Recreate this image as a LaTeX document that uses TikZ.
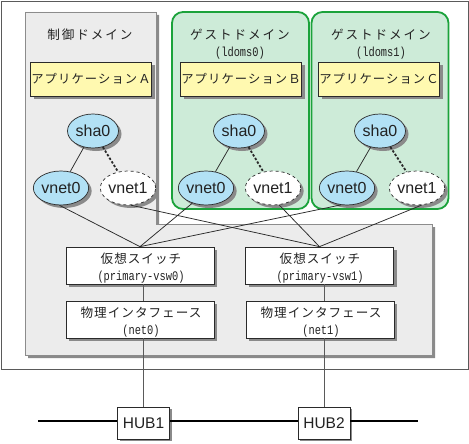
\documentclass[tikz,border=0pt]{standalone}
\usepackage{fontspec}
\setmainfont{Liberation Sans}
\newfontfamily\jpf[LetterSpace=9]{Noto Sans CJK JP}
\newfontfamily\jph[LetterSpace=15]{Noto Sans CJK JP}
\newfontfamily\jpg[LetterSpace=8]{Noto Sans CJK JP}
\newfontfamily\monof{Liberation Mono}
\newcommand\mtxt[1]{\scalebox{0.95}[1.2]{#1}}
\usetikzlibrary{shapes.geometric,shadows}
\definecolor{framec}{HTML}{5A5A5A}
\definecolor{panelc}{HTML}{ECECEC}
\definecolor{panelb}{HTML}{8C8C8C}
\definecolor{shadc}{HTML}{8A8A8A}
\definecolor{greenf}{HTML}{CDEBD8}
\definecolor{greenb}{HTML}{1BA23B}
\definecolor{appc}{HTML}{FFF9B0}
\definecolor{ellc}{HTML}{B2E1F5}
\definecolor{linec}{HTML}{2A2A2A}
\definecolor{textc}{HTML}{222222}
\pgfdeclarelayer{bg}
\pgfsetlayers{bg,main}
\tikzset{
  shad/.style={drop shadow={shadow xshift=3pt,shadow yshift=-3pt,fill=shadc,opacity=1}},
  shadsmall/.style={drop shadow={shadow xshift=2pt,shadow yshift=-2pt,fill=shadc,opacity=1}},
  guestbox/.style={draw=greenb,line width=1.8pt,fill=greenf,rounded corners=11pt,minimum width=137pt,minimum height=197pt,inner sep=0pt},
  appbox/.style={draw=linec,line width=0.7pt,fill=appc,minimum width=121pt,minimum height=34pt,inner sep=0pt,shad,text=textc,font=\jpf\fontsize{12.3}{14}\selectfont},
  ell/.style={ellipse,draw=linec,line width=0.7pt,fill=ellc,minimum width=51pt,minimum height=34pt,inner sep=0pt,shad,text=textc,font=\fontsize{16}{18}\selectfont},
  ellv/.style={ell,fill=white,dashed},
  swbox/.style={draw=linec,line width=0.7pt,fill=white,minimum width=148pt,minimum height=37pt,inner sep=0pt,shad},
  hubbox/.style={draw=linec,line width=0.7pt,fill=white,minimum width=52pt,minimum height=32pt,inner sep=0pt,shadsmall,text=textc,font=\fontsize{15.5}{17}\selectfont},
  titlet/.style={font=\jph\fontsize{12.6}{15}\selectfont,text=textc,inner sep=0pt},
  jpt/.style={font=\jpg\fontsize{12.6}{14}\selectfont,text=textc,inner sep=0pt},
  mt/.style={font=\monof\fontsize{10.9}{12}\selectfont,text=textc,inner sep=0pt},
  conn/.style={draw=linec,line width=0.75pt},
  dotconn/.style={draw=linec,line width=1.8pt,dash pattern=on 2.4pt off 1.8pt},
  vconn/.style={draw=framec,line width=0.8pt},
  hubline/.style={draw=black,line width=1.1pt},
}
\begin{document}
\begin{tikzpicture}[x=1pt,y=-1pt]
\useasboundingbox (0,0) rectangle (469,444);
\begin{pgfonlayer}{bg}
  % outer frame
  \draw[framec,line width=0.9pt] (1,1) rectangle (468,369);
  % control domain + lower panel (L-shape) with shadow
  \fill[shadc] (28,15) -- (159,15) -- (159,227) -- (435,227) -- (435,358) -- (28,358) -- cycle;
  \draw[panelb,fill=panelc,line width=0.6pt] (25,12) -- (156,12) -- (156,224) -- (432,224) -- (432,355) -- (25,355) -- cycle;
\end{pgfonlayer}

% guest domains
\node[guestbox] (g0) at (240.5,110.5) {};
\node[guestbox] (g1) at (380,110.5) {};

% titles
\node[titlet] (ctrlt) at (90,35) {制御ドメイン};
\node[titlet] (g0t) at (240,35) {ゲストドメイン};
\node[mt] (g0n) at (240,53) {\mtxt{(ldoms0)}};
\node[titlet] (g1t) at (381,35) {ゲストドメイン};
\node[mt] (g1n) at (381,53) {\mtxt{(ldoms1)}};

% applications
\node[appbox] (appa) at (91,79) {アプリケーションＡ};
\node[appbox] (appb) at (241,79) {アプリケーションＢ};
\node[appbox] (appc) at (379,79) {アプリケーションＣ};

% ellipses
\node[ell] (csha) at (93,131) {sha0};
\node[ell] (cv0) at (61,188) {vnet0};
\node[ellv] (cv1) at (128,188) {vnet1};
\node[ell] (gsha0) at (239,131) {sha0};
\node[ell] (gv00) at (206,188) {vnet0};
\node[ellv] (gv01) at (273,188) {vnet1};
\node[ell] (gsha1) at (380,131) {sha0};
\node[ell] (gv10) at (347,188) {vnet0};
\node[ellv] (gv11) at (417,188) {vnet1};

% switches and interfaces
\node[swbox] (vsw0) at (140,265.5) {};
\node[jpt] (vsw0t) at (141,259) {仮想スイッチ};
\node[mt] (vsw0m) at (141,277.5) {\mtxt{(primary-vsw0)}};
\node[swbox] (vsw1) at (319.5,265.5) {};
\node[jpt] (vsw1t) at (320,259) {仮想スイッチ};
\node[mt] (vsw1m) at (320,277.5) {\mtxt{(primary-vsw1)}};
\node[swbox] (net0) at (140,319.5) {};
\node[jpt] (net0t) at (141,313) {物理インタフェース};
\node[mt] (net0m) at (141,331.5) {\mtxt{(net0)}};
\node[swbox] (net1) at (320,319.5) {};
\node[jpt] (net1t) at (321,313) {物理インタフェース};
\node[mt] (net1m) at (321,331.5) {\mtxt{(net1)}};

% hubs
\node[hubbox] (hub1) at (143.5,423) {HUB1};
\node[hubbox] (hub2) at (324,423) {HUB2};
\coordinate (hl) at (38,421);
\coordinate (hr) at (418,421);

% connectors inside domains
\draw[conn] (csha) -- (cv0);
\draw[dotconn] (csha) -- (cv1);
\draw[conn] (gsha0) -- (gv00);
\draw[dotconn] (gsha0) -- (gv01);
\draw[conn] (gsha1) -- (gv10);
\draw[dotconn] (gsha1) -- (gv11);

% connectors to switches
\draw[conn] (cv0.265) -- (vsw0.north);
\draw[conn] (gv00.228) -- (vsw0.north);
\draw[conn] (gv10.250) -- (vsw0.north);
\draw[conn] (cv1.280) -- (vsw1.north);
\draw[conn] (gv01.290) -- (vsw1.north);
\draw[conn] (gv11.285) -- (vsw1.north);

% vertical links
\draw[vconn] (vsw0.south -| hub1.north) -- (net0.north -| hub1.north);
\draw[vconn] (net0.south -| hub1.north) -- (hub1.north);
\draw[vconn] (vsw1.south -| hub2.north) -- (net1.north -| hub2.north);
\draw[vconn] (net1.south -| hub2.north) -- (hub2.north);

% hub line
\draw[hubline] (hl) -- (hl -| hub1.west);
\draw[hubline] (hl -| hub1.east) -- (hl -| hub2.west);
\draw[hubline] (hl -| hub2.east) -- (hr);
\end{tikzpicture}
\end{document}
